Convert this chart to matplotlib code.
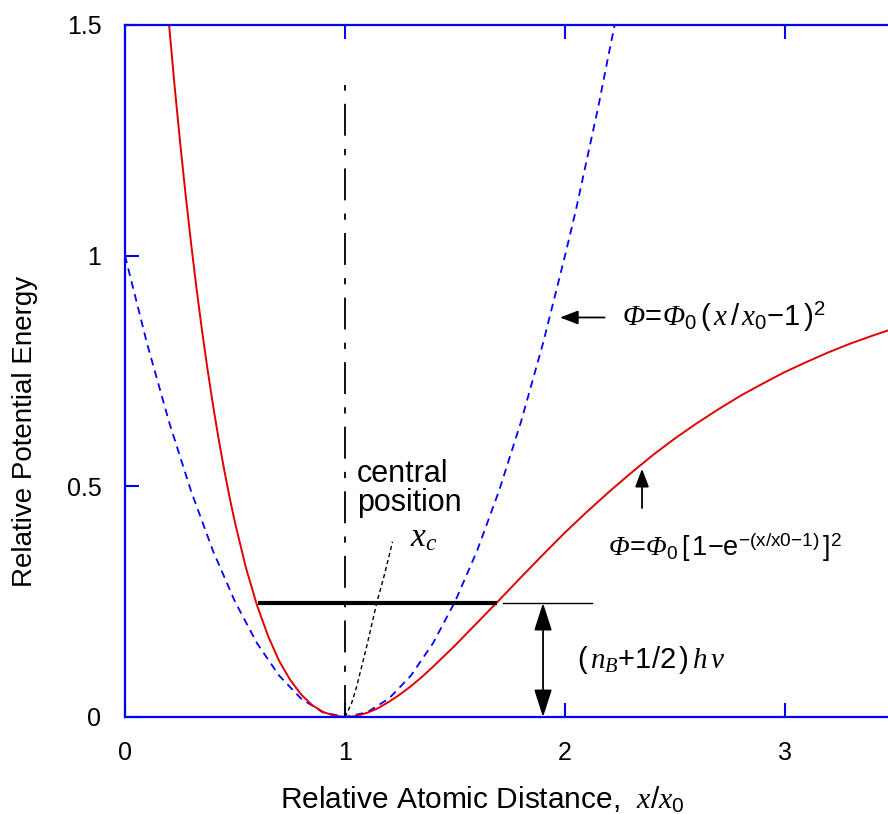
import numpy as np
import matplotlib
matplotlib.use("Agg")
import matplotlib.pyplot as plt

plt.rcParams['font.family'] = ['Liberation Sans', 'DejaVu Sans']
plt.rcParams['mathtext.fontset'] = 'custom'
plt.rcParams['mathtext.rm'] = 'Liberation Sans'
plt.rcParams['mathtext.it'] = 'Liberation Serif:italic'
plt.rcParams['mathtext.cal'] = 'Liberation Serif:italic'  # used for the italic Phi
plt.rcParams['mathtext.bf'] = 'Liberation Sans:bold'
plt.rcParams['lines.scale_dashes'] = False

# Morse potential (red, solid)
morse_x = [0.200, 0.225, 0.250, 0.275, 0.300, 0.325, 0.350, 0.375, 0.400, 0.425, 0.450, 0.475,
           0.50, 0.55, 0.60, 0.65, 0.70, 0.75, 0.80, 0.85, 0.90, 0.95, 1.00,
           1.05, 1.10, 1.15, 1.20, 1.25, 1.30, 1.35, 1.40, 1.50, 1.60, 1.70, 1.80, 1.90,
           2.00, 2.10, 2.20, 2.30, 2.40, 2.50, 2.60, 2.70, 2.80, 2.90, 3.00, 3.10, 3.20,
           3.30, 3.40, 3.50]
morse_y = [1.502, 1.370, 1.248, 1.134, 1.028, 0.929, 0.838, 0.754, 0.676, 0.604, 0.538, 0.477,
           0.421, 0.323, 0.242, 0.176, 0.122, 0.081, 0.049, 0.026, 0.011, 0.003, 0.000,
           0.002, 0.009, 0.019, 0.033, 0.049, 0.067, 0.087, 0.109, 0.155, 0.204, 0.253, 0.303, 0.352,
           0.400, 0.445, 0.488, 0.529, 0.568, 0.604, 0.637, 0.668, 0.697, 0.723, 0.748, 0.770, 0.791,
           0.810, 0.827, 0.843]

# harmonic potential (blue, dashed)
harm_x = [0.0, 0.1, 0.2, 0.3, 0.4, 0.5, 0.6, 0.7, 0.8, 0.9, 1.0,
          1.1, 1.2, 1.3, 1.4, 1.5, 1.6, 1.7, 1.8, 1.9, 2.0, 2.05, 2.1, 2.15, 2.2, 2.23]
harm_y = [1.00, 0.81, 0.64, 0.49, 0.36, 0.25, 0.16, 0.09, 0.04, 0.01, 0.00,
          0.01, 0.04, 0.09, 0.16, 0.25, 0.36, 0.49, 0.64, 0.81, 1.00, 1.10, 1.21, 1.32, 1.44, 1.51]

# locus of the central position x_c (black, dotted)
center_x = [1.00, 1.03, 1.053, 1.098, 1.144, 1.18, 1.216]
center_y = [0.00, 0.03, 0.066, 0.152, 0.247, 0.31, 0.380]

level_e = 0.247
level_x = [0.605, 1.69]
level_ext = [1.718, 2.123]
eq_x = 1.0
eq_top = 1.371

fig = plt.figure(figsize=(8.88, 8.14), dpi=100)
ax = fig.add_axes([125 / 888, 1 - 717 / 814, 763 / 888, 692 / 814])

ax.plot(harm_x, harm_y, color='#0000ff', lw=1.3, linestyle=(0, (5.5, 4)))
ax.plot(morse_x, morse_y, color='#e00000', lw=1.4)
ax.plot(center_x, center_y, color='black', lw=1.0, linestyle=(0, (3, 2.2)))
ax.plot([eq_x, eq_x], [0, eq_top], color='black', lw=1.3,
        linestyle=(0, (23, 9.5, 4.5, 9.5)))
ax.plot(level_x, [level_e, level_e], color='black', lw=3.0, solid_capstyle='butt')
ax.plot(level_ext, [level_e, level_e], color='black', lw=1.0)

ax.annotate('', xy=(1.9, 0), xytext=(1.9, level_e),
            arrowprops=dict(arrowstyle='<|-|>,head_length=1.7,head_width=0.55',
                            color='black', lw=1.3, mutation_scale=10,
                            shrinkA=0, shrinkB=0))
ax.annotate('', xy=(1.977, 0.866), xytext=(2.18, 0.866),
            arrowprops=dict(arrowstyle='-|>,head_length=1.1,head_width=0.42',
                            color='black', lw=1.3, mutation_scale=10,
                            shrinkA=0, shrinkB=0))
ax.annotate('', xy=(2.35, 0.538), xytext=(2.35, 0.453),
            arrowprops=dict(arrowstyle='-|>,head_length=1.1,head_width=0.42',
                            color='black', lw=1.3, mutation_scale=10,
                            shrinkA=0, shrinkB=0))

ax.text(2.259, 0.866,
        r'$\mathcal{\Phi}\!=\!\mathcal{\Phi}_0\,(\,x\,/\,x_0\mathrm{-}1\,)^2$',
        fontsize=21, ha='left', va='center')
ax.text(2.195, 0.367,
        r'$\mathcal{\Phi}\!=\!\mathcal{\Phi}_0\,[\,1\mathrm{-e}^{\mathrm{-(x/x0{-}1)}}\,]^2$',
        fontsize=19.5, ha='left', va='center')
ax.text(2.055, 0.124, r'$(\,n_B\mathrm{+}1/2\,)\,h\,\nu$', fontsize=21, ha='left', va='center')
ax.text(1.055, 0.495, 'central\nposition', fontsize=22, ha='left', va='center',
        linespacing=0.95)
ax.text(1.295, 0.388, r'$x_c$', fontsize=24, ha='left', va='center')

ax.set_xlim(0, 3.468)
ax.set_ylim(0, 1.5)
ax.set_xticks([0, 1, 2, 3])
ax.set_yticks([0, 0.5, 1, 1.5])
ax.set_xticklabels(['0', '1', '2', '3'])
ax.set_yticklabels(['0', '0.5', '1', '1.5'])
ax.tick_params(direction='in', length=10, width=1.5, color='#0000ff',
               labelsize=18, top=True, right=False)
ax.tick_params(axis='x', pad=17)
ax.tick_params(axis='y', pad=17)

for side in ['left', 'top', 'bottom']:
    ax.spines[side].set_color('#0000ff')
    ax.spines[side].set_linewidth(1.6)
ax.spines['right'].set_visible(False)

ax.set_xlabel(r'Relative Atomic Distance,  $x/x_0$', fontsize=21.5)
ax.set_ylabel('Relative Potential Energy', fontsize=20)
ax.xaxis.label.set_va('center')
ax.yaxis.label.set_va('center')
ax.xaxis.set_label_coords(0.468, -0.12)
ax.yaxis.set_label_coords(-0.131, 0.412)

fig.savefig('out.png', dpi=100)
